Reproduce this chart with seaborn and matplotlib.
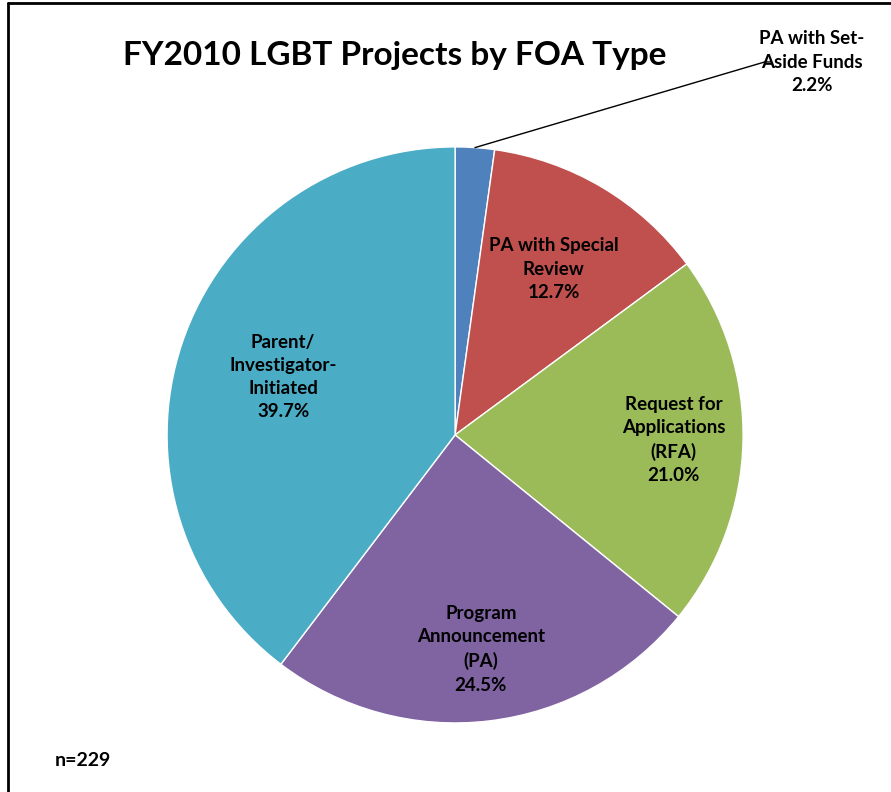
import numpy as np
import seaborn as sns
import matplotlib.pyplot as plt
from matplotlib.lines import Line2D

sns.set_theme(style="white")
plt.rcParams['font.family'] = ['Lato', 'DejaVu Sans']
plt.rcParams['text.color'] = 'black'

# data, clockwise from 12 o'clock
categories = ["PA with Set-\nAside Funds", "PA with Special\nReview", "Request for\nApplications\n(RFA)",
              "Program\nAnnouncement\n(PA)", "Parent/\nInvestigator-\nInitiated"]
shares = [2.2, 12.7, 21.0, 24.5, 39.7]
n_total = 229
colors = ["#4F81BD", "#C0504D", "#9BBB59", "#8064A2", "#4BACC6"]

fig = plt.figure(figsize=(8.91, 7.92), dpi=100)
ax = fig.add_axes([0.1875, 0.0872, 0.6465, 0.7273])

labels = [f"{c}\n{v:.1f}%" for c, v in zip(categories, shares)]
wedges, texts = ax.pie(shares, colors=colors, startangle=90, counterclock=False,
                       labels=labels, labeldistance=0.7,
                       wedgeprops=dict(edgecolor="white", linewidth=1),
                       textprops=dict(fontsize=13.5, fontweight="bold", color="black",
                                      linespacing=1.45))
ax.set_xlim(-1, 1)
ax.set_ylim(-1, 1)
ax.set_aspect("equal")

# nudge inner labels to where excel put them
dists = [None, 0.67, 0.76, 0.75, 0.63]
for w, t, d in zip(wedges, texts, dists):
    t.set_ha("center")
    t.set_va("center")
    t.set_multialignment("center")
    if d is None:
        continue
    ang = np.deg2rad((w.theta1 + w.theta2) / 2)
    t.set_position((d * np.cos(ang), d * np.sin(ang)))

# small slice label sits outside with a leader line
w0 = wedges[0]
a0 = np.deg2rad((w0.theta1 + w0.theta2) / 2)
texts[0].set_transform(fig.transFigure)
texts[0].set_position((812 / 891, 1 - 62 / 792))
ax.add_line(Line2D([np.cos(a0), 1.075, 1.095], [np.sin(a0), 1.295, 1.295],
                   color="black", linewidth=1, clip_on=False))

fig.text(395 / 891, 1 - 55 / 792, "FY2010 LGBT Projects by FOA Type", ha="center", va="center",
         fontsize=24, fontweight="bold", color="black")
fig.text(55 / 891, 1 - 760 / 792, f"n={n_total}", ha="left", va="center",
         fontsize=14, fontweight="bold", color="black")

# chart frame (only top/left visible in original crop)
fig.add_artist(Line2D([8 / 891, 8 / 891], [0, 1 - 3 / 792], transform=fig.transFigure,
                      color="black", linewidth=2))
fig.add_artist(Line2D([8 / 891, 1], [1 - 3 / 792, 1 - 3 / 792], transform=fig.transFigure,
                      color="black", linewidth=2))

fig.savefig("out.png", dpi=100, facecolor="white")
